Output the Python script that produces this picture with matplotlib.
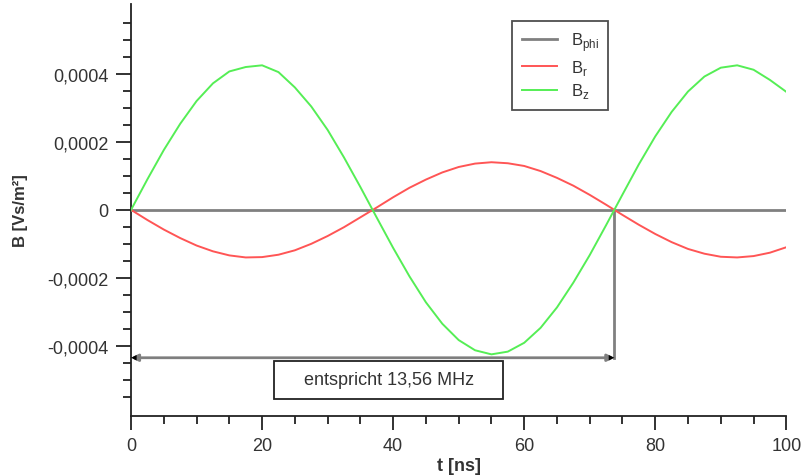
import matplotlib
matplotlib.use("Agg")
import matplotlib.pyplot as plt
from matplotlib.patches import Rectangle
from matplotlib.ticker import MultipleLocator, FixedLocator, FixedFormatter

plt.rcParams['font.family'] = ['Liberation Sans', 'DejaVu Sans']

# time [ns]
t = [0, 2.5, 5, 7.5, 10, 12.5, 15, 17.5, 20, 22.5, 25, 27.5, 30, 32.5, 35, 37.5,
     40, 42.5, 45, 47.5, 50, 52.5, 55, 57.5, 60, 62.5, 65, 67.5, 70, 72.5, 75,
     77.5, 80, 82.5, 85, 87.5, 90, 92.5, 95, 97.5, 100]
# fields in units of 1e-4 Vs/m^2
b_phi = [0.0] * len(t)
b_r = [0, -0.30, -0.58, -0.83, -1.05, -1.22, -1.34, -1.40, -1.39, -1.32, -1.19,
       -1.00, -0.77, -0.51, -0.22, 0.07, 0.37, 0.65, 0.89, 1.10, 1.26, 1.36,
       1.40, 1.37, 1.29, 1.14, 0.94, 0.71, 0.44, 0.15, -0.15, -0.44, -0.71,
       -0.95, -1.15, -1.29, -1.38, -1.40, -1.36, -1.26, -1.10]
b_z = [0, 0.90, 1.76, 2.53, 3.20, 3.72, 4.07, 4.20, 4.25, 4.05, 3.60, 3.04,
       2.35, 1.54, 0.67, -0.23, -1.12, -1.96, -2.72, -3.35, -3.83, -4.13,
       -4.25, -4.17, -3.91, -3.47, -2.87, -2.14, -1.33, -0.45, 0.45, 1.34,
       2.16, 2.88, 3.48, 3.92, 4.18, 4.25, 4.12, 3.82, 3.47]
scale = 1e-4

period = 73.75  # ns, 13.56 MHz
annot_text = "entspricht 13,56 MHz"
y_ticks = [-0.0004, -0.0002, 0.0, 0.0002, 0.0004]
y_ticklabels = ["-0,0004", "-0,0002", "0", "0,0002", "0,0004"]
x_ticks = [0, 20, 40, 60, 80, 100]

txt = '#333333'
fig = plt.figure(figsize=(8.04, 4.77), dpi=100)
ax = fig.add_axes([0.163, 0.126, 0.815, 0.864])

ax.plot(t, b_phi, color='#808080', lw=2.0, label=r'B$_{\mathregular{phi}}$', zorder=3)
ax.plot(t, [v * scale for v in b_r], color='#ff5555', lw=1.4, label=r'B$_{\mathregular{r}}$', zorder=4)
ax.plot(t, [v * scale for v in b_z], color='#55ee55', lw=1.4, label=r'B$_{\mathregular{z}}$', zorder=4)

# annotation: vertical marker and double arrow for one period
y_arrow = -0.000435
ax.plot([period, period], [0, y_arrow], color='#808080', lw=2.0, zorder=3)
ax.annotate('', xy=(0, y_arrow), xytext=(period, y_arrow),
            arrowprops=dict(arrowstyle='<|-|>', color='#808080', lw=2.0,
                            mutation_scale=10, shrinkA=0, shrinkB=0), zorder=3)
ax.annotate('', xy=(0, y_arrow), xytext=(period, y_arrow),
            arrowprops=dict(arrowstyle='<|-|>', color='black', lw=0.01,
                            mutation_scale=10, shrinkA=0, shrinkB=0), zorder=3)
ax.add_patch(Rectangle((21.8, -0.000556), 35.0, 0.000112, facecolor='white',
                       edgecolor='#222222', lw=1.3, zorder=5))
ax.text(39.3, -0.0005, annot_text, ha='center', va='center', fontsize=13,
        color=txt, zorder=6)

ax.set_xlim(0, 100)
ax.set_ylim(-0.000606, 0.000606)

for s in ['top', 'right']:
    ax.spines[s].set_visible(False)
for s in ['left', 'bottom']:
    ax.spines[s].set_linewidth(1.3)
    ax.spines[s].set_color('#222222')

ax.xaxis.set_major_locator(FixedLocator(x_ticks))
ax.xaxis.set_minor_locator(MultipleLocator(5))
ax.yaxis.set_major_locator(FixedLocator(y_ticks))
ax.yaxis.set_major_formatter(FixedFormatter(y_ticklabels))
minor_y = [k * 0.00005 for k in range(-11, 12)]
ax.yaxis.set_minor_locator(FixedLocator(minor_y))

ax.tick_params(axis='y', which='major', length=11, width=1.3, color='#222222',
               labelsize=13, labelcolor=txt, pad=5)
ax.tick_params(axis='x', which='major', length=10, width=1.3, color='#222222',
               labelsize=13, labelcolor=txt, pad=5)
ax.tick_params(which='minor', length=6, width=1.3, color='#222222')

ax.set_xlabel('t [ns]', fontsize=13, fontweight='bold', color=txt, labelpad=2)
ax.set_ylabel('B [Vs/m²]', fontsize=12, fontweight='bold', color=txt, labelpad=14)

leg = ax.legend(loc='upper left', bbox_to_anchor=(0.582, 0.958), frameon=True,
                fancybox=False, edgecolor='#222222', fontsize=12, handlelength=2.1,
                labelspacing=0.28, borderpad=0.55, handletextpad=0.85,
                borderaxespad=0)
leg.get_frame().set_linewidth(1.3)
for tx in leg.get_texts():
    tx.set_color(txt)

fig.savefig('out.png', dpi=100)
